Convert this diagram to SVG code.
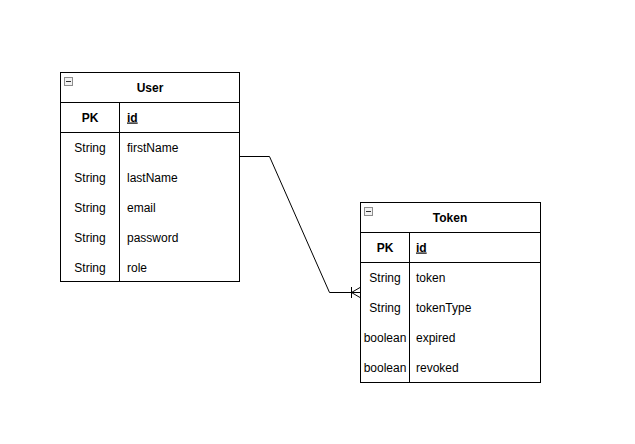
<svg xmlns="http://www.w3.org/2000/svg" width="635" height="444" viewBox="0 0 635 444">
<style>
.box{fill:#fff;stroke:#000;stroke-width:1}
.ln{stroke:#000;stroke-width:1;fill:none}
text{font-family:"Liberation Sans",Arial,sans-serif;font-size:12px;fill:#000}
.b{font-weight:bold}
.c{text-anchor:middle}
.u{text-decoration:underline}
.ic{fill:#f2f2f2;stroke:#8c8c8c;stroke-width:1}
.icl{stroke:#333;stroke-width:1}
</style>
<rect width="635" height="444" fill="#fff"/>
<g id="user">
<rect class="box" x="60.5" y="72.5" width="179" height="209"/>
<line class="ln" x1="60.5" y1="102.5" x2="239.5" y2="102.5"/>
<line class="ln" x1="60.5" y1="132.5" x2="239.5" y2="132.5"/>
<line class="ln" x1="119.5" y1="102.5" x2="119.5" y2="281.5"/>
<rect class="ic" x="64.5" y="77.5" width="8" height="8"/>
<line class="icl" x1="66" y1="81.5" x2="71" y2="81.5"/>
<text class="b c" x="150" y="91.5">User</text>
<text class="b c" x="90" y="121.5">PK</text>
<text class="b u" x="127" y="121.5">id</text>
<text class="c" x="90" y="151.5">String</text><text x="127" y="151.5">firstName</text>
<text class="c" x="90" y="181.5">String</text><text x="127" y="181.5">lastName</text>
<text class="c" x="90" y="211.5">String</text><text x="127" y="211.5">email</text>
<text class="c" x="90" y="241.5">String</text><text x="127" y="241.5">password</text>
<text class="c" x="90" y="271.5">String</text><text x="127" y="271.5">role</text>
</g>
<g id="token">
<rect class="box" x="360.5" y="202.5" width="180" height="180"/>
<line class="ln" x1="360.5" y1="232.5" x2="540.5" y2="232.5"/>
<line class="ln" x1="360.5" y1="262.5" x2="540.5" y2="262.5"/>
<line class="ln" x1="409.5" y1="232.5" x2="409.5" y2="382.5"/>
<rect class="ic" x="364.5" y="207.5" width="8" height="8"/>
<line class="icl" x1="366" y1="211.5" x2="371" y2="211.5"/>
<text class="b c" x="450" y="221.5">Token</text>
<text class="b c" x="385" y="251.5">PK</text>
<text class="b u" x="416" y="251.5">id</text>
<text class="c" x="385" y="281.5">String</text><text x="416" y="281.5">token</text>
<text class="c" x="385" y="311.5">String</text><text x="416" y="311.5">tokenType</text>
<text class="c" x="385" y="341.5">boolean</text><text x="416" y="341.5">expired</text>
<text class="c" x="385" y="371.5">boolean</text><text x="416" y="371.5">revoked</text>
</g>
<g id="connectors">
<polyline class="ln" points="240,156.5 269.5,156.5 329.5,292.5 360,292.5"/>
<line class="ln" x1="351.5" y1="287" x2="351.5" y2="298"/>
<line class="ln" x1="351.5" y1="292.5" x2="360" y2="287.5"/>
<line class="ln" x1="351.5" y1="292.5" x2="360" y2="297.5"/>
</g>
</svg>
